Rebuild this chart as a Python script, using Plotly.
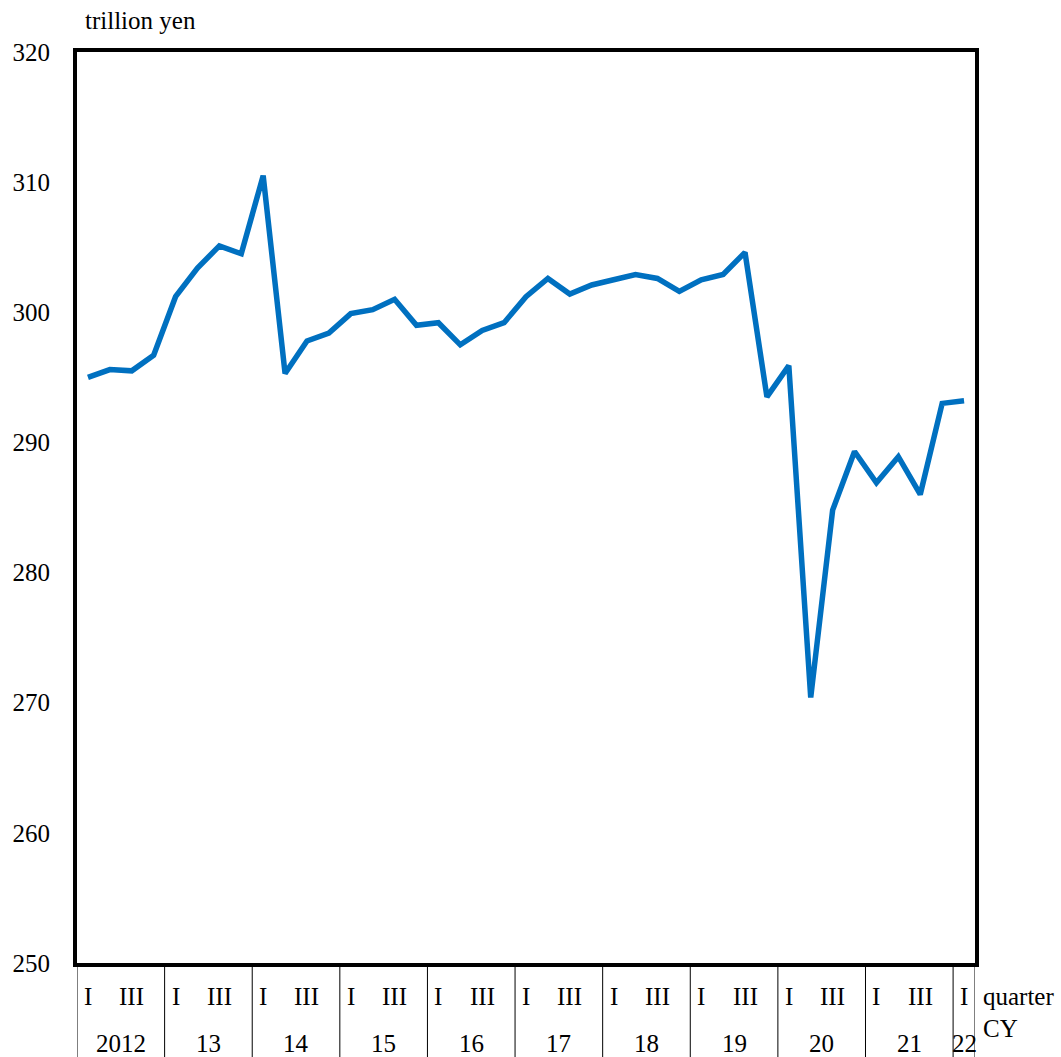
import plotly.graph_objects as go

years = ["2012", "13", "14", "15", "16", "17", "18", "19", "20", "21", "22"]
quarter_labels = ["I", "III"]
values = [
    295.0, 295.6, 295.5, 296.7,
    301.2, 303.4, 305.1, 304.5,
    310.5, 295.3, 297.8, 298.4,
    299.9, 300.2, 301.0, 299.0,
    299.2, 297.5, 298.6, 299.2,
    301.2, 302.6, 301.4, 302.1,
    302.5, 302.9, 302.6, 301.6,
    302.5, 302.9, 304.6, 293.5,
    295.9, 270.4, 284.8, 289.3,
    286.9, 288.9, 286.0, 293.0,
    293.2,
]
y_ticks = [250, 260, 270, 280, 290, 300, 310, 320]

FONT = "Liberation Serif"
FS = 25
n = len(values)
x = list(range(n))

fig = go.Figure()
fig.add_trace(go.Scatter(
    x=x, y=values, mode="lines",
    line=dict(color="#0070C0", width=5.5),
    showlegend=False, hoverinfo="skip",
))

plot_h = 1057 - 52 - 94
q_y = -33 / plot_h
y_y = -80 / plot_h

shapes = []
annotations = []
bounds = [i * 4 - 0.5 for i in range(len(years))] + [n - 0.5]
for b in bounds:
    shapes.append(dict(type="line", xref="x", yref="paper", x0=b, x1=b, y0=0, y1=-0.12,
                       line=dict(color="black", width=1)))

for i, yr in enumerate(years):
    start = i * 4
    last = min(start + 3, n - 1)
    for j, ql in enumerate(quarter_labels):
        qx = start + j * 2
        if qx < n:
            annotations.append(dict(x=qx, y=q_y, xref="x", yref="paper", text=ql,
                                    showarrow=False, xanchor="center", yanchor="middle",
                                    font=dict(family=FONT, size=FS, color="black")))
    annotations.append(dict(x=(start + last) / 2, y=y_y, xref="x", yref="paper", text=yr,
                            showarrow=False, xanchor="center", yanchor="middle",
                            font=dict(family=FONT, size=FS, color="black")))

annotations.append(dict(x=1.0, y=q_y, xref="paper", yref="paper", text="quarter",
                        showarrow=False, xanchor="left", yanchor="middle", xshift=6,
                        font=dict(family=FONT, size=FS, color="black")))
annotations.append(dict(x=1.0, y=-65 / plot_h, xref="paper", yref="paper", text="CY",
                        showarrow=False, xanchor="left", yanchor="middle", xshift=6,
                        font=dict(family=FONT, size=FS, color="black")))
annotations.append(dict(x=0, y=1, xref="paper", yref="paper", text="trillion yen",
                        showarrow=False, xanchor="left", yanchor="bottom", xshift=6, yshift=16,
                        font=dict(family=FONT, size=FS, color="black")))

fig.update_layout(
    width=1061, height=1057,
    margin=dict(l=77, r=86, t=52, b=94),
    paper_bgcolor="white", plot_bgcolor="white",
    font=dict(family=FONT, size=FS, color="black"),
    shapes=shapes, annotations=annotations,
    xaxis=dict(range=[-0.5, n - 0.5], showticklabels=False, showgrid=False, zeroline=False,
               showline=True, mirror=True, linewidth=4, linecolor="black", ticks=""),
    yaxis=dict(range=[250, 320], tickvals=y_ticks, showgrid=False, zeroline=False,
               showline=True, mirror=True, linewidth=4, linecolor="black", ticks="",
               ticklabelstandoff=18, tickfont=dict(family=FONT, size=FS, color="black")),
)

fig.write_html("out.html", config={"displayModeBar": False},
               post_script="document.body.style.margin='0';")
